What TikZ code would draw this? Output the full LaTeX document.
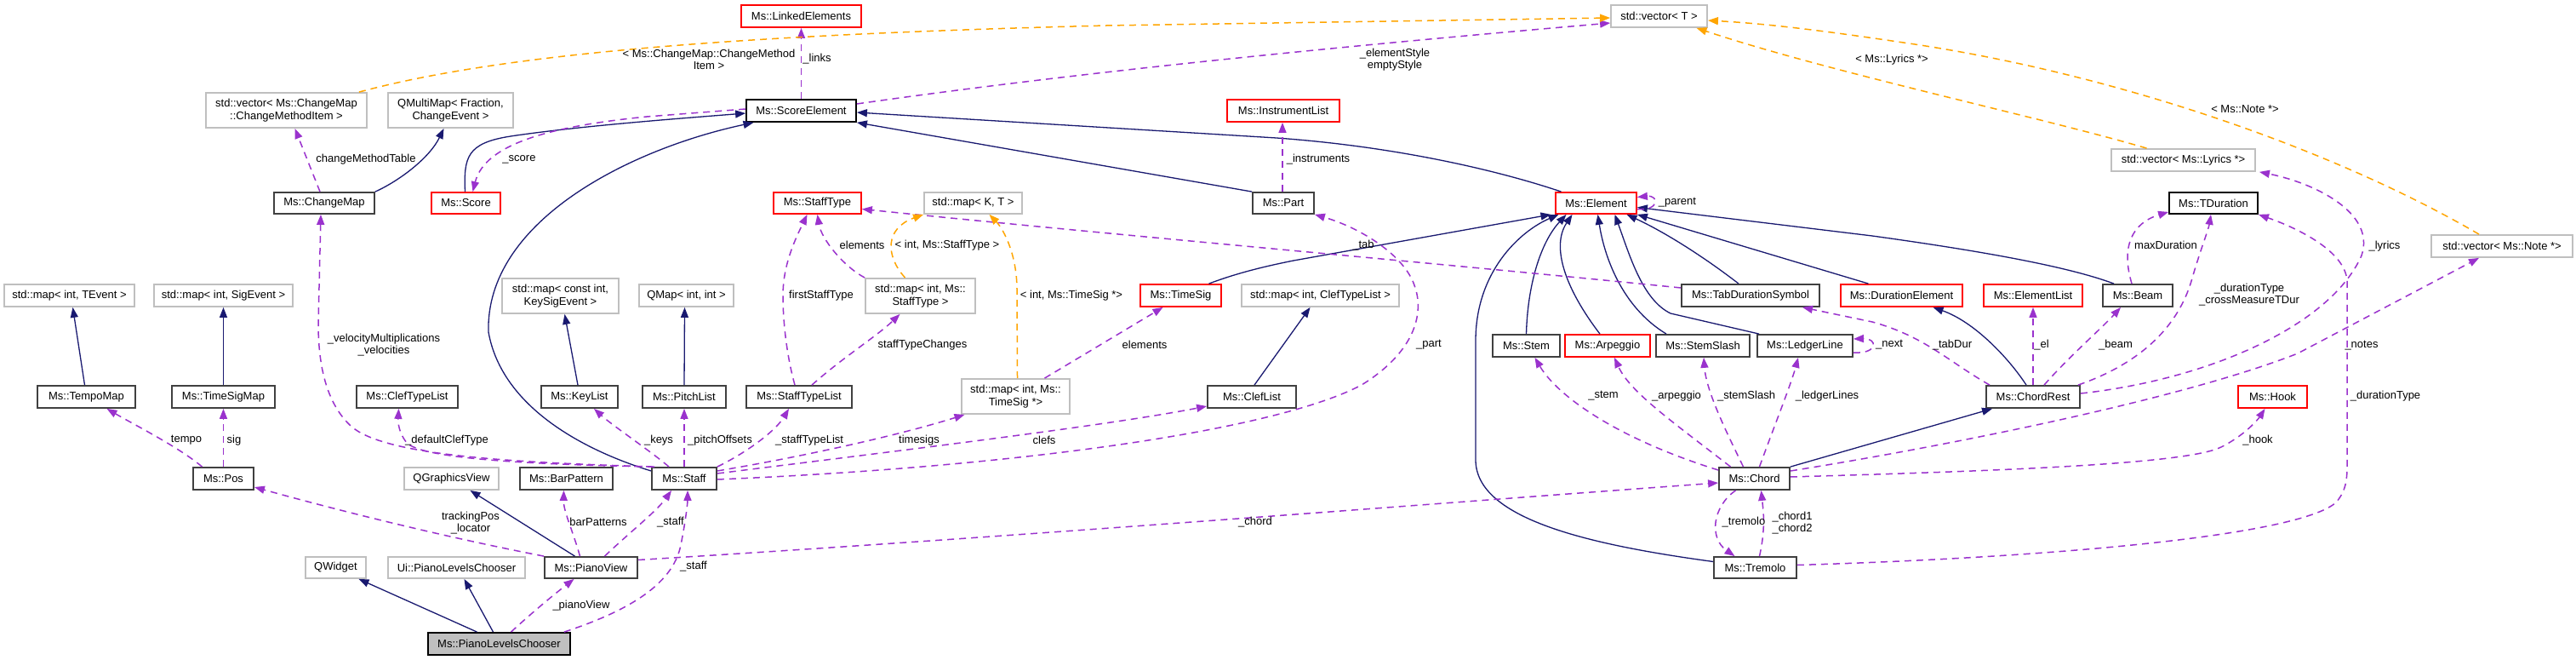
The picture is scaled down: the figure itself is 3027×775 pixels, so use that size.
\documentclass[tikz,border=0pt]{standalone}
\usepackage{fontspec}
\setmainfont{Liberation Sans}
\usetikzlibrary{arrows.meta}
\definecolor{navyc}{HTML}{191970}
\definecolor{purc}{HTML}{9A32CD}
\definecolor{orc}{HTML}{FFA500}
\definecolor{gyc}{HTML}{BFBFBF}
\definecolor{dkc}{HTML}{404040}
\definecolor{redc}{HTML}{FF0000}
\newcommand\labfont{\fontsize{13}{14.5}\selectfont}
\begin{document}
\begin{tikzpicture}[x=1pt,y=-1pt,
  box/.style={draw, line width=1.8pt, inner sep=0pt, font=\labfont, text=black, fill=white, align=center},
  dk/.style={box, draw=dkc},
  rd/.style={box, draw=redc},
  gy/.style={box, draw=gyc},
  inh/.style={draw=navyc, line width=1.3pt, -{Triangle[length=12pt,width=9pt]}},
  use/.style={draw=purc, line width=1.5pt, dash pattern=on 8pt off 6pt, -{Triangle[length=12pt,width=9pt]}},
  tpl/.style={draw=orc, line width=1.5pt, dash pattern=on 8pt off 6pt, -{Triangle[length=12pt,width=9pt]}},
  lbl/.style={font=\labfont, inner sep=0pt, align=center}]
\fill[white] (0,0) rectangle (3027,775);
\useasboundingbox (0,0) rectangle (3027,775);
% nodes
\node[gy, minimum width=189pt, minimum height=41pt] (vecCMI) at (336.5,129.5) {std::vector< Ms::ChangeMap\\::ChangeMethodItem >};
\node[gy, minimum width=147pt, minimum height=41pt] (QMultiMap) at (529.5,129.5) {QMultiMap< Fraction,\\ChangeEvent >};
\node[dk, minimum width=118pt, minimum height=25pt] (ChangeMap) at (381,238.5) {Ms::ChangeMap};
\node[rd, minimum width=81pt, minimum height=25pt] (Score) at (547.5,238.5) {Ms::Score};
\node[gy, minimum width=153pt, minimum height=26pt] (mapTE) at (81.5,347) {std::map< int, TEvent >};
\node[gy, minimum width=163pt, minimum height=26pt] (mapSE) at (262.5,347) {std::map< int, SigEvent >};
\node[gy, minimum width=137pt, minimum height=41pt] (mapKSE) at (658.5,347.5) {std::map< const int,\\KeySigEvent >};
\node[gy, minimum width=111pt, minimum height=26pt] (QMap) at (806.5,347) {QMap< int, int >};
\node[dk, minimum width=115pt, minimum height=26pt] (TempoMap) at (101.5,466) {Ms::TempoMap};
\node[dk, minimum width=121pt, minimum height=26pt] (TimeSigMap) at (262.5,466) {Ms::TimeSigMap};
\node[dk, minimum width=119pt, minimum height=26pt] (ClefTypeList) at (478.5,466) {Ms::ClefTypeList};
\node[dk, minimum width=90pt, minimum height=26pt] (KeyList) at (681,466) {Ms::KeyList};
\node[dk, minimum width=71pt, minimum height=26pt] (Pos) at (262.5,562) {Ms::Pos};
\node[gy, minimum width=111pt, minimum height=26pt] (QGraphicsView) at (530.5,562) {QGraphicsView};
\node[dk, minimum width=109pt, minimum height=26pt] (BarPattern) at (665.5,562) {Ms::BarPattern};
\node[gy, minimum width=71pt, minimum height=25pt] (QWidget) at (394.5,666.5) {QWidget};
\node[gy, minimum width=161pt, minimum height=25pt] (UiPLC) at (536.5,666.5) {Ui::PianoLevelsChooser};
\node[dk, minimum width=109pt, minimum height=25pt] (PianoView) at (694.5,666.5) {Ms::PianoView};
\node[box, draw=black, fill=gyc, minimum width=167pt, minimum height=26pt] (PLC) at (586.5,756) {Ms::PianoLevelsChooser};
\node[rd, minimum width=141pt, minimum height=26pt] (LinkedElements) at (941.5,19) {Ms::LinkedElements};
\node[box, draw=black, minimum width=129pt, minimum height=26pt] (ScoreElement) at (941.5,130) {Ms::ScoreElement};
\node[rd, minimum width=132pt, minimum height=26pt] (InstrumentList) at (1508,130) {Ms::InstrumentList};
\node[rd, minimum width=103pt, minimum height=25pt] (StaffType) at (960.5,238.5) {Ms::StaffType};
\node[gy, minimum width=115pt, minimum height=25pt] (mapKT) at (1143.5,238.5) {std::map< K, T >};
\node[gy, minimum width=129pt, minimum height=41pt] (mapIST) at (1081.5,347.5) {std::map< int, Ms::\\StaffType >};
\node[rd, minimum width=95pt, minimum height=26pt] (TimeSig) at (1387.5,347) {Ms::TimeSig};
\node[gy, minimum width=185pt, minimum height=26pt] (mapICTL) at (1551.5,347) {std::map< int, ClefTypeList >};
\node[dk, minimum width=72pt, minimum height=25pt] (Part) at (1508,238.5) {Ms::Part};
\node[dk, minimum width=98pt, minimum height=26pt] (PitchList) at (804,466) {Ms::PitchList};
\node[dk, minimum width=124pt, minimum height=26pt] (StaffTypeList) at (939,466) {Ms::StaffTypeList};
\node[gy, minimum width=127pt, minimum height=41pt] (mapITS) at (1193.5,465.5) {std::map< int, Ms::\\TimeSig *>};
\node[dk, minimum width=104pt, minimum height=26pt] (ClefList) at (1471,466) {Ms::ClefList};
\node[dk, minimum width=76pt, minimum height=26pt] (Staff) at (804,562) {Ms::Staff};
\node[gy, minimum width=113pt, minimum height=26pt] (vecT) at (1949.5,19) {std::vector< T >};
\node[rd, minimum width=95pt, minimum height=25pt] (Element) at (1875.5,238.5) {Ms::Element};
\node[dk, minimum width=162pt, minimum height=26pt] (TabDurationSymbol) at (2057,347) {Ms::TabDurationSymbol};
\node[rd, minimum width=143pt, minimum height=26pt] (DurationElement) at (2234.5,347) {Ms::DurationElement};
\node[dk, minimum width=79pt, minimum height=26pt] (Stem) at (1793.5,406) {Ms::Stem};
\node[rd, minimum width=100pt, minimum height=26pt] (Arpeggio) at (1889,406) {Ms::Arpeggio};
\node[dk, minimum width=110pt, minimum height=26pt] (StemSlash) at (2001,406) {Ms::StemSlash};
\node[dk, minimum width=112pt, minimum height=26pt] (LedgerLine) at (2121,406) {Ms::LedgerLine};
\node[dk, minimum width=83pt, minimum height=26pt] (Chord) at (2061.5,562) {Ms::Chord};
\node[dk, minimum width=97pt, minimum height=25pt] (Tremolo) at (2062.5,666.5) {Ms::Tremolo};
\node[gy, minimum width=169pt, minimum height=26pt] (vecLyrics) at (2565.5,188) {std::vector< Ms::Lyrics *>};
\node[box, draw=black, minimum width=104pt, minimum height=25pt] (TDuration) at (2601,238.5) {Ms::TDuration};
\node[gy, minimum width=166pt, minimum height=26pt] (vecNote) at (2940,289) {std::vector< Ms::Note *>};
\node[rd, minimum width=116pt, minimum height=26pt] (ElementList) at (2389,347) {Ms::ElementList};
\node[dk, minimum width=82pt, minimum height=26pt] (Beam) at (2512,347) {Ms::Beam};
\node[dk, minimum width=110pt, minimum height=26pt] (ChordRest) at (2389,466) {Ms::ChordRest};
\node[rd, minimum width=81pt, minimum height=26pt] (Hook) at (2670.5,466) {Ms::Hook};
% inheritance
\draw[inh] (ChangeMap.north east) .. controls (470,212) and (505,185) .. ([xshift=-8]QMultiMap.south);
\draw[inh] ([xshift=-1]Score.north) .. controls (545,185) and (548,168) .. (600,160) .. controls (680,148) and (800,139) .. ([yshift=-3]ScoreElement.west);
\draw[inh] ([yshift=9]Staff.west) .. controls (690,530) and (590,480) .. (574,390) .. controls (570,260) and (740,175) .. ([xshift=-56]ScoreElement.south);
\draw[inh] (Part.north west) -- (ScoreElement.south east);
\draw[inh] ([xshift=-41]Element.north) .. controls (1760,200) and (1640,172) .. (1500,162) -- ([yshift=-2]ScoreElement.east);
\draw[inh] ([xshift=-2]TempoMap.north) -- ([xshift=4]mapTE.south);
\draw[inh] (TimeSigMap.north) -- (mapSE.south);
\draw[inh] ([xshift=-2]KeyList.north) -- ([xshift=5]mapKSE.south);
\draw[inh] (PitchList.north) -- ([xshift=-2]QMap.south);
\draw[inh] ([xshift=3]ClefList.north) -- ([xshift=-12]mapICTL.south);
\draw[inh] ([xshift=-19]PianoView.north) -- ([xshift=22]QGraphicsView.south);
\draw[inh] ([xshift=-26]PLC.north) -- ([xshift=27]QWidget.south);
\draw[inh] ([xshift=-7]PLC.north) -- ([xshift=9]UiPLC.south);
\draw[inh] ([xshift=33]TimeSig.north) .. controls (1450,322) and (1480,314) .. (1520,306) -- ([xshift=-53]Element.south);
\draw[inh] (Stem.north) .. controls (1795,335) and (1810,285) .. ([xshift=-35]Element.south);
\draw[inh] ([xshift=-9]Arpeggio.north) .. controls (1840,340) and (1822,290) .. ([xshift=-28]Element.south);
\draw[inh] ([xshift=-43]StemSlash.north) .. controls (1905,360) and (1885,300) .. ([xshift=2]Element.south);
\draw[inh] ([xshift=-54]LedgerLine.north) -- (1963,368) .. controls (1930,352) and (1915,300) .. ([xshift=22]Element.south);
\draw[inh] ([xshift=-14]TabDurationSymbol.north) .. controls (2000,300) and (1955,272) .. ([xshift=36]Element.south);
\draw[inh] ([xshift=-39]DurationElement.north) -- (Element.south east);
\draw[inh] ([xshift=-28]Beam.north) .. controls (2430,313) and (2330,295) .. (2200,277) -- ([yshift=-5]Element.east);
\draw[inh] ([yshift=7]Tremolo.west) .. controls (1870,640) and (1734,610) .. (1734,540) -- (1734,400) .. controls (1734,320) and (1785,272) .. ([xshift=-44]Element.south);
\draw[inh] ([xshift=-8]ChordRest.north) .. controls (2360,420) and (2320,378) .. ([xshift=37]DurationElement.south);
\draw[inh] (Chord.north east) -- ([xshift=-48]ChordRest.south);
% usage
\draw[use] ([xshift=-5]ChangeMap.north) -- ([xshift=10]vecCMI.south);
\draw[use] ([xshift=4]Staff.north west) .. controls (600,543) and (450,535) .. (412,500) .. controls (380,470) and (374,420) .. (374,380) -- ([xshift=-4]ChangeMap.south);
\draw[use] ([yshift=2]ScoreElement.west) -- (760,137) .. controls (650,148) and (570,168) .. ([xshift=8]Score.north);
\draw[use] (ScoreElement.north) -- (LinkedElements.south);
\draw[use] ([yshift=8]ScoreElement.east) .. controls (1300,80) and (1650,48) .. ([yshift=-8]vecT.west);
\draw[use] ([xshift=-1]Part.north) -- ([xshift=-1]InstrumentList.south);
\draw[use] ([yshift=-7]Element.east) .. controls (1950,248) and (1950,229) .. ([yshift=7]Element.east);
\draw[use] (PianoView.north west) .. controls (520,630) and (400,600) .. ([yshift=-10]Pos.east);
\draw[use] ([xshift=-25]Pos.north) .. controls (210,525) and (160,500) .. ([xshift=24]TempoMap.south);
\draw[use] (Pos.north) -- (TimeSigMap.south);
\draw[use] ([xshift=2]Staff.north west) .. controls (600,545) and (495,537) .. (478,520) .. controls (466,505) and (468,490) .. ([xshift=-10]ClefTypeList.south);
\draw[use] ([xshift=-18]Staff.north) .. controls (765,530) and (720,500) .. ([xshift=17]KeyList.south);
\draw[use] (Staff.north) -- (PitchList.south);
\draw[use] (Staff.north east) .. controls (880,530) and (912,505) .. ([xshift=-12]StaffTypeList.south);
\draw[use] ([yshift=9]Staff.east) .. controls (950,535) and (1060,510) .. ([xshift=-60]mapITS.south);
\draw[use] ([yshift=6]Staff.east) .. controls (1050,530) and (1300,500) .. ([yshift=-11]ClefList.west);
\draw[use] ([yshift=-1]Staff.east) .. controls (1200,548) and (1500,505) .. (1600,452) .. controls (1660,415) and (1675,370) .. (1662,335) .. controls (1650,300) and (1600,268) .. (Part.south east);
\draw[use] ([xshift=16]PianoView.north) .. controls (740,625) and (772,600) .. ([xshift=-15]Staff.south);
\draw[use] ([xshift=-8]PLC.north east) .. controls (730,720) and (790,690) .. (800,640) .. controls (806,610) and (808,590) .. ([xshift=4]Staff.south);
\draw[use] ([xshift=14]PLC.north) .. controls (630,715) and (655,695) .. ([xshift=-20]PianoView.south);
\draw[use] ([xshift=-13]PianoView.north) .. controls (672,620) and (662,600) .. ([xshift=-3]BarPattern.south);
\draw[use] ([yshift=9]PianoView.east) .. controls (1200,630) and (1700,590) .. ([yshift=-5]Chord.west);
\draw[use] (mapIST.north west) .. controls (990,312) and (965,280) .. (StaffType.south);
\draw[use] ([xshift=15]StaffTypeList.north) .. controls (990,420) and (1030,395) .. ([xshift=-24]mapIST.south);
\draw[use] ([xshift=-5]StaffTypeList.north) .. controls (925,420) and (920,380) .. (920,347) .. controls (920,310) and (935,280) .. ([xshift=-12]StaffType.south);
\draw[use] ([xshift=34]mapITS.north) -- ([xshift=-21]TimeSig.south);
\draw[use] ([yshift=9]TabDurationSymbol.west) .. controls (1700,310) and (1300,275) .. ([yshift=-7]StaffType.east);
\draw[use] ([yshift=10]Chord.west) .. controls (1900,515) and (1830,465) .. ([xshift=10]Stem.south);
\draw[use] ([xshift=-28]Chord.north) .. controls (1965,495) and (1915,460) .. ([xshift=8]Arpeggio.south);
\draw[use] ([xshift=-13]Chord.north) .. controls (2030,510) and (2005,460) .. ([xshift=1]StemSlash.south);
\draw[use] ([xshift=6]Chord.north) .. controls (2085,500) and (2105,450) .. ([xshift=-8]LedgerLine.south);
\draw[use] ([yshift=-8]LedgerLine.east) .. controls (2207,416) and (2207,397) .. ([yshift=8]LedgerLine.east);
\draw[use] ([xshift=-22]Chord.south) .. controls (2012,595) and (2008,632) .. ([xshift=-24]Tremolo.north);
\draw[use] ([xshift=5]Tremolo.north) .. controls (2075,620) and (2072,600) .. ([xshift=8]Chord.south);
\draw[use] ([xshift=-51]ChordRest.north) .. controls (2290,425) and (2262,395) .. (2200,378) -- ([xshift=61]TabDurationSymbol.south);
\draw[use] (ChordRest.north) -- (ElementList.south);
\draw[use] ([xshift=13]ChordRest.north) .. controls (2430,420) and (2470,385) .. ([xshift=-20]Beam.south);
\draw[use] ([xshift=-3]ChordRest.north east) .. controls (2520,425) and (2560,380) .. (2575,330) .. controls (2585,295) and (2595,270) .. ([xshift=-3]TDuration.south);
\draw[use] ([yshift=4]ChordRest.east) .. controls (2600,445) and (2740,380) .. (2775,300) .. controls (2792,250) and (2720,215) .. ([xshift=4]vecLyrics.south east);
\draw[use] ([xshift=-7]Beam.north) .. controls (2492,290) and (2505,262) .. ([yshift=3]TDuration.south west);
\draw[use] ([yshift=9]Chord.east) .. controls (2280,525) and (2560,470) .. (2700,415) -- ([xshift=-27]vecNote.south);
\draw[use] ([yshift=2]Chord.east) .. controls (2350,553) and (2570,545) .. (2610,525) .. controls (2640,510) and (2655,490) .. ([xshift=-9]Hook.south);
\draw[use] ([yshift=3]Tremolo.east) .. controls (2400,655) and (2700,630) .. (2745,590) .. controls (2758,575) and (2758,560) .. (2758,545) -- (2758,330) .. controls (2756,295) and (2700,268) .. (TDuration.south east);
% templates
\draw[tpl] ([xshift=-10]vecCMI.north east) .. controls (600,60) and (900,40) .. (1300,30) -- ([yshift=-2]vecT.west);
\draw[tpl] ([xshift=-18]mapIST.north) .. controls (1040,300) and (1040,268) .. (mapKT.south west);
\draw[tpl] ([xshift=2]mapITS.north) -- (1195,340) .. controls (1195,300) and (1180,270) .. ([xshift=19]mapKT.south);
\draw[tpl] ([xshift=-43]vecLyrics.north) .. controls (2400,138) and (2150,85) .. ([xshift=44]vecT.south);
\draw[tpl] ([xshift=-27]vecNote.north) .. controls (2750,180) and (2500,90) .. (2250,52) .. controls (2150,37) and (2080,28) .. ([yshift=-5]vecT.east);
% labels
\node[lbl] (l1) at (430,187) {changeMethodTable};
\node[lbl] (l2) at (451,405) {\_velocityMultiplications\\\_velocities};
\node[lbl] (l3) at (610,187) {\_score};
\node[lbl] (l4) at (960,69) {\_links};
\node[lbl] (l5) at (1639,70) {\_elementStyle\\emptyStyle};
\node[lbl] (l6) at (1549,187) {\_instruments};
\node[lbl] (l7) at (1971,238) {\_parent};
\node[lbl] (l8) at (553,614) {trackingPos\\\_locator};
\node[lbl] (l9) at (219,517) {tempo};
\node[lbl] (l10) at (275,517) {sig};
\node[lbl] (l11) at (525,517) {\_defaultClefType};
\node[lbl] (l12) at (774,517) {\_keys};
\node[lbl] (l13) at (846,517) {\_pitchOffsets};
\node[lbl] (l14) at (951,517) {\_staffTypeList};
\node[lbl] (l15) at (1080,517) {timesigs};
\node[lbl] (l16) at (1227,517) {clefs};
\node[lbl] (l17) at (1679,405) {\_part};
\node[lbl] (l18) at (788,613) {\_staff};
\node[lbl] (l19) at (815,665) {\_staff};
\node[lbl] (l20) at (683,711) {\_pianoView};
\node[lbl] (l21) at (703,613) {barPatterns};
\node[lbl] (l22) at (1475,613) {\_chord};
\node[lbl] (l23) at (1013,288) {elements};
\node[lbl] (l24) at (1084,405) {staffTypeChanges};
\node[lbl] (l25) at (965,347) {firstStaffType};
\node[lbl] (l26) at (1345,405) {elements};
\node[lbl] (l27) at (1602,288) {\_tab};
\node[lbl] (l28) at (1884,465) {\_stem};
\node[lbl] (l29) at (1970,465) {\_arpeggio};
\node[lbl] (l30) at (2052,465) {\_stemSlash};
\node[lbl] (l31) at (2147,465) {\_ledgerLines};
\node[lbl] (l32) at (2220,405) {\_next};
\node[lbl] (l33) at (2049,613) {\_tremolo};
\node[lbl] (l34) at (2106,614) {\_chord1\\\_chord2};
\node[lbl] (l35) at (2294,405) {\_tabDur};
\node[lbl] (l36) at (2399,405) {\_el};
\node[lbl] (l37) at (2486,405) {\_beam};
\node[lbl] (l38) at (2643,346) {\_durationType\\\_crossMeasureTDur};
\node[lbl] (l39) at (2802,289) {\_lyrics};
\node[lbl] (l40) at (2545,288) {maxDuration};
\node[lbl] (l41) at (2775,406) {\_notes};
\node[lbl] (l42) at (2653,517) {\_hook};
\node[lbl] (l43) at (2803,465) {\_durationType};
\node[lbl] (l44) at (833,70) {< Ms::ChangeMap::ChangeMethod\\Item >};
\node[lbl] (l45) at (1113,288) {< int, Ms::StaffType >};
\node[lbl] (l46) at (1259,347) {< int, Ms::TimeSig *>};
\node[lbl] (l47) at (2223,70) {< Ms::Lyrics *>};
\node[lbl] (l48) at (2638,128) {< Ms::Note *>};
\end{tikzpicture}
\end{document}
